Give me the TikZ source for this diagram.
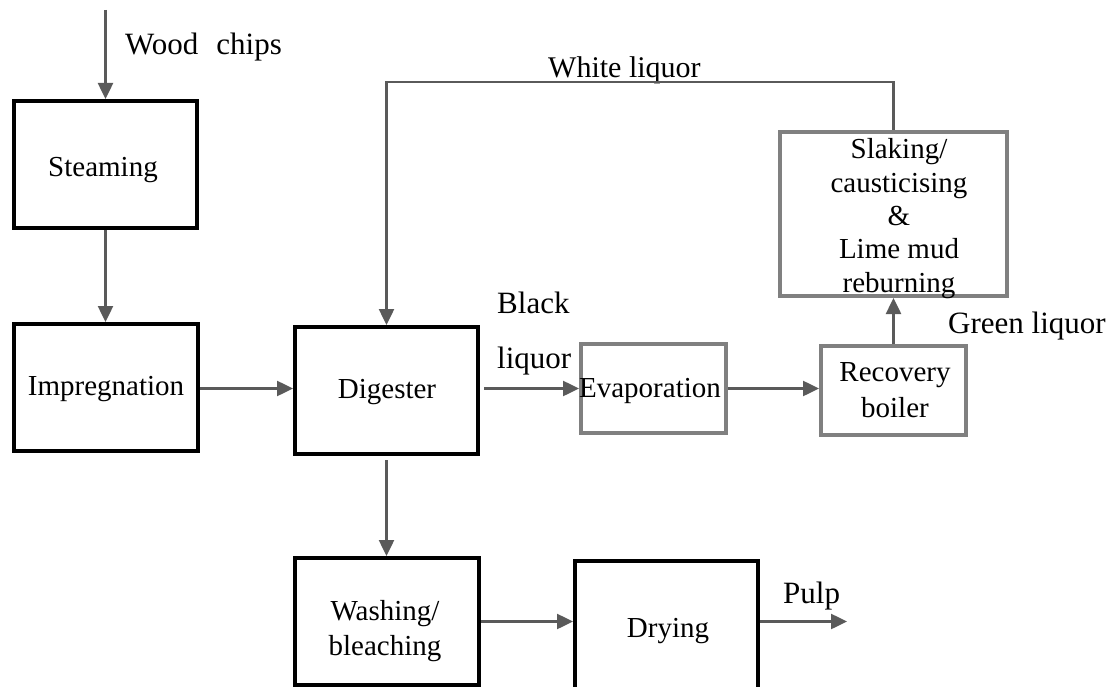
\documentclass[tikz,border=0pt]{standalone}
\usepackage{fontspec}
\setmainfont{Liberation Serif}
\usetikzlibrary{arrows.meta}
\definecolor{arrowc}{RGB}{90,90,90}
\definecolor{boxgray}{RGB}{128,128,128}
\begin{document}
\begin{tikzpicture}[x=1pt,y=-1pt,
  boxk/.style={draw=black,line width=4pt,inner sep=0pt,rectangle},
  boxg/.style={draw=boxgray,line width=4pt,inner sep=0pt,rectangle},
  btxt/.style={inner sep=0pt,align=center,font=\fontsize{29}{33.3}\selectfont},
  ltxt/.style={inner sep=0pt,anchor=base west,font=\fontsize{31}{36}\selectfont},
  arr/.style={draw=arrowc,line width=2.5pt,-{Triangle[length=16pt,width=15pt,fill=arrowc]}}]
\useasboundingbox (0,0) rectangle (1114,687);
% boxes
\node[boxk,minimum width=183pt,minimum height=127pt] (steam) at (105.5,164.5) {};
\node[boxk,minimum width=184pt,minimum height=127pt] (impreg) at (106,387.5) {};
\node[boxk,minimum width=183pt,minimum height=127pt] (digest) at (386.5,390.5) {};
\node[boxg,minimum width=145pt,minimum height=89pt] (evap) at (653.5,388.5) {};
\node[boxg,minimum width=145pt,minimum height=89pt] (recov) at (893.5,390.5) {};
\node[boxg,minimum width=227pt,minimum height=164pt] (slak) at (893.5,214) {};
\node[boxk,minimum width=184pt,minimum height=127pt] (wash) at (387,621.5) {};
\node[boxk,minimum width=183pt,minimum height=132pt] (dry) at (666.5,627) {};
% box texts
\node[btxt,anchor=base] (steamT) at (103,177) {Steaming};
\node[btxt,anchor=base] (impregT) at (106,395) {Impregnation};
\node[btxt,anchor=base] (digestT) at (387,398) {Digester};
\node[btxt,anchor=base] (evapT) at (650,397) {Evaporation};
\node[btxt,anchor=base] (dryT) at (668,637) {Drying};
\node[btxt,font=\fontsize{29}{36}\selectfont] (recovT) at (895,390.5) {Recovery\\boiler};
\node[btxt] (slakT) at (899,218.6) {Slaking/\\causticising\\\&\\Lime mud\\reburning};
\node[btxt,font=\fontsize{29}{35}\selectfont] (washT) at (385,630.6) {Washing/\\bleaching};
% labels
\node[ltxt] (wcL) at (125,55) {Wood\hspace{18pt}chips};
\node[ltxt,font=\fontsize{30}{36}\selectfont] (wlL) at (548,78) {White liquor};
\node[ltxt] (blL) at (497,313) {Black};
\node[ltxt] (lqL) at (497,368) {liquor};
\node[ltxt] (glL) at (948,333) {Green liquor};
\node[ltxt] (pulpL) at (783,603) {Pulp};
% connectors
\coordinate (wc) at (105.5,10);
\coordinate (pulpend) at (847,621.5);
\draw[arr] (wc) -- (steam.north);
\draw[arr] (steam.south) -- (steam.south |- impreg.north);
\draw[arr] (impreg.east |- evap.west) -- (digest.west |- evap.west);
\draw[arr,shorten <=4pt] (digest.east |- evap.west) -- (evap.west);
\draw[arr] (evap.east) -- (recov.west |- evap.east);
\draw[arr] (recov.north) -- (slak.south);
\draw[arr] (slak.north) -- ++(0,-48) -| (digest.north);
\draw[arr,shorten <=4pt] (digest.south) -- (digest.south |- wash.north);
\draw[arr] (wash.east) -- (wash.east -| dry.west);
\draw[arr] (dry.east |- wash.east) -- (pulpend);
\end{tikzpicture}
\end{document}
